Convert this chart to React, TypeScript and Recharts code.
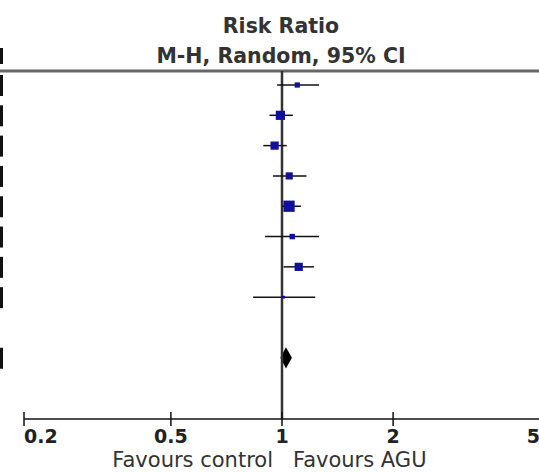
import React from 'react';
import { ScatterChart, Scatter, ErrorBar, XAxis, YAxis, ReferenceLine, ReferenceArea, Label } from 'recharts';

// study rows, top to bottom
const studyRows = [1, 2, 3, 4, 5, 6, 7, 8];
const riskRatios = [1.1, 0.99, 0.955, 1.046, 1.045, 1.066, 1.11, 1.01];
const lowerCI = [0.97, 0.925, 0.89, 0.945, 1.0, 0.9, 1.01, 0.835];
const upperCI = [1.26, 1.07, 1.03, 1.165, 1.125, 1.26, 1.22, 1.23];
const weights = [5.2, 16, 12.8, 9.7, 24, 5.5, 12.8, 1.5];

// pooled estimate
const pooledRow = 10;
const pooledRR = 1.025;
const pooledLower = 0.99;
const pooledUpper = 1.064;

const xTicks = [0.2, 0.5, 1, 2, 5];
const xDomain = [0.2, 5];
const yDomain = [0.538, 12.02];

const studies = studyRows.map((row, i) => ({
  row,
  rr: riskRatios[i],
  ci: [riskRatios[i] - lowerCI[i], upperCI[i] - riskRatios[i]],
  weight: weights[i],
}));

const FONT = '"DejaVu Sans", Verdana, sans-serif';

const XTick = (props: any) => {
  const { x, y, payload } = props;
  const v = payload.value;
  const anchor = v === xTicks[0] ? 'start' : v === xTicks[xTicks.length - 1] ? 'end' : 'middle';
  return (
    <g>
      <line x1={x} x2={x} y1={y - 7} y2={y + 7} stroke="#111" strokeWidth={1.5} />
      <text x={x} y={y + 24} textAnchor={anchor} fontSize={19} fontWeight="bold" fill="#222" fontFamily={FONT}>
        {v}
      </text>
    </g>
  );
};

const RowMark = (props: any) => {
  const { y } = props;
  return <rect x={0} y={y - 10} width={3} height={21} fill="#111" />;
};

const StudyBox = (props: any) => {
  const { cx, cy, payload } = props;
  const side = 2.3 * Math.sqrt(payload.weight);
  return <rect x={cx - side / 2} y={cy - side / 2} width={side} height={side} fill="#10109c" />;
};

const Diamond = (props: any) => {
  const { x, y, width, height } = props;
  const peak = x + (width * Math.log(pooledRR / pooledLower)) / Math.log(pooledUpper / pooledLower);
  const pts = `${x},${y + height / 2} ${peak},${y} ${x + width},${y + height / 2} ${peak},${y + height}`;
  return <polygon points={pts} fill="#000" />;
};

const FavoursLabel = (props: any) => {
  const { viewBox } = props;
  const oneX = viewBox.x + (viewBox.width * Math.log(1 / xDomain[0])) / Math.log(xDomain[1] / xDomain[0]);
  const baseY = viewBox.y + 48;
  return (
    <g fontFamily={FONT} fontSize={21} fill="#333">
      <text x={oneX - 9} y={baseY} textAnchor="end">Favours control</text>
      <text x={oneX + 11} y={baseY} textAnchor="start">Favours AGU</text>
    </g>
  );
};

export default function App() {
  return (
    <div
      style={{
        position: 'absolute',
        left: 0,
        top: 0,
        width: 539,
        height: 472,
        overflow: 'hidden',
        background: '#fff',
        fontFamily: FONT,
      }}
    >
      <div
        style={{
          position: 'absolute',
          left: 0,
          top: 11,
          width: 562,
          textAlign: 'center',
          fontWeight: 'bold',
          fontSize: 20.5,
          lineHeight: '30px',
          color: '#333',
        }}
      >
        <div>Risk Ratio</div>
        <div>M-H, Random, 95% CI</div>
      </div>
      <div style={{ position: 'absolute', left: 0, top: 48, width: 3, height: 16, background: '#111' }} />
      <ScatterChart width={541} height={472} margin={{ top: 71, right: 1, bottom: 0, left: 0 }}>
        <XAxis
          type="number"
          dataKey="rr"
          scale="log"
          domain={xDomain}
          ticks={xTicks}
          interval={0}
          allowDataOverflow
          tickSize={0}
          tickMargin={0}
          tickLine={false}
          tick={<XTick />}
          axisLine={{ stroke: '#111', strokeWidth: 1.5 }}
          height={53}
        >
          <Label content={FavoursLabel} />
        </XAxis>
        <YAxis
          type="number"
          dataKey="row"
          reversed
          domain={yDomain}
          ticks={[...studyRows, pooledRow]}
          interval={0}
          allowDataOverflow
          width={24}
          axisLine={false}
          tickLine={false}
          tick={<RowMark />}
        />
        <ReferenceLine
          segment={[
            { x: 0.17, y: yDomain[0] },
            { x: xDomain[1], y: yDomain[0] },
          ]}
          ifOverflow="visible"
          stroke="#666"
          strokeWidth={3}
        />
        <ReferenceLine x={1} stroke="#333" strokeWidth={2.5} />
        <Scatter data={studies} shape={StudyBox} isAnimationActive={false}>
          <ErrorBar dataKey="ci" direction="x" width={0} stroke="#111" strokeWidth={1.5} isAnimationActive={false} />
        </Scatter>
        <ReferenceArea
          x1={pooledLower}
          x2={pooledUpper}
          y1={pooledRow - 0.35}
          y2={pooledRow + 0.35}
          shape={Diamond}
        />
      </ScatterChart>
    </div>
  );
}
